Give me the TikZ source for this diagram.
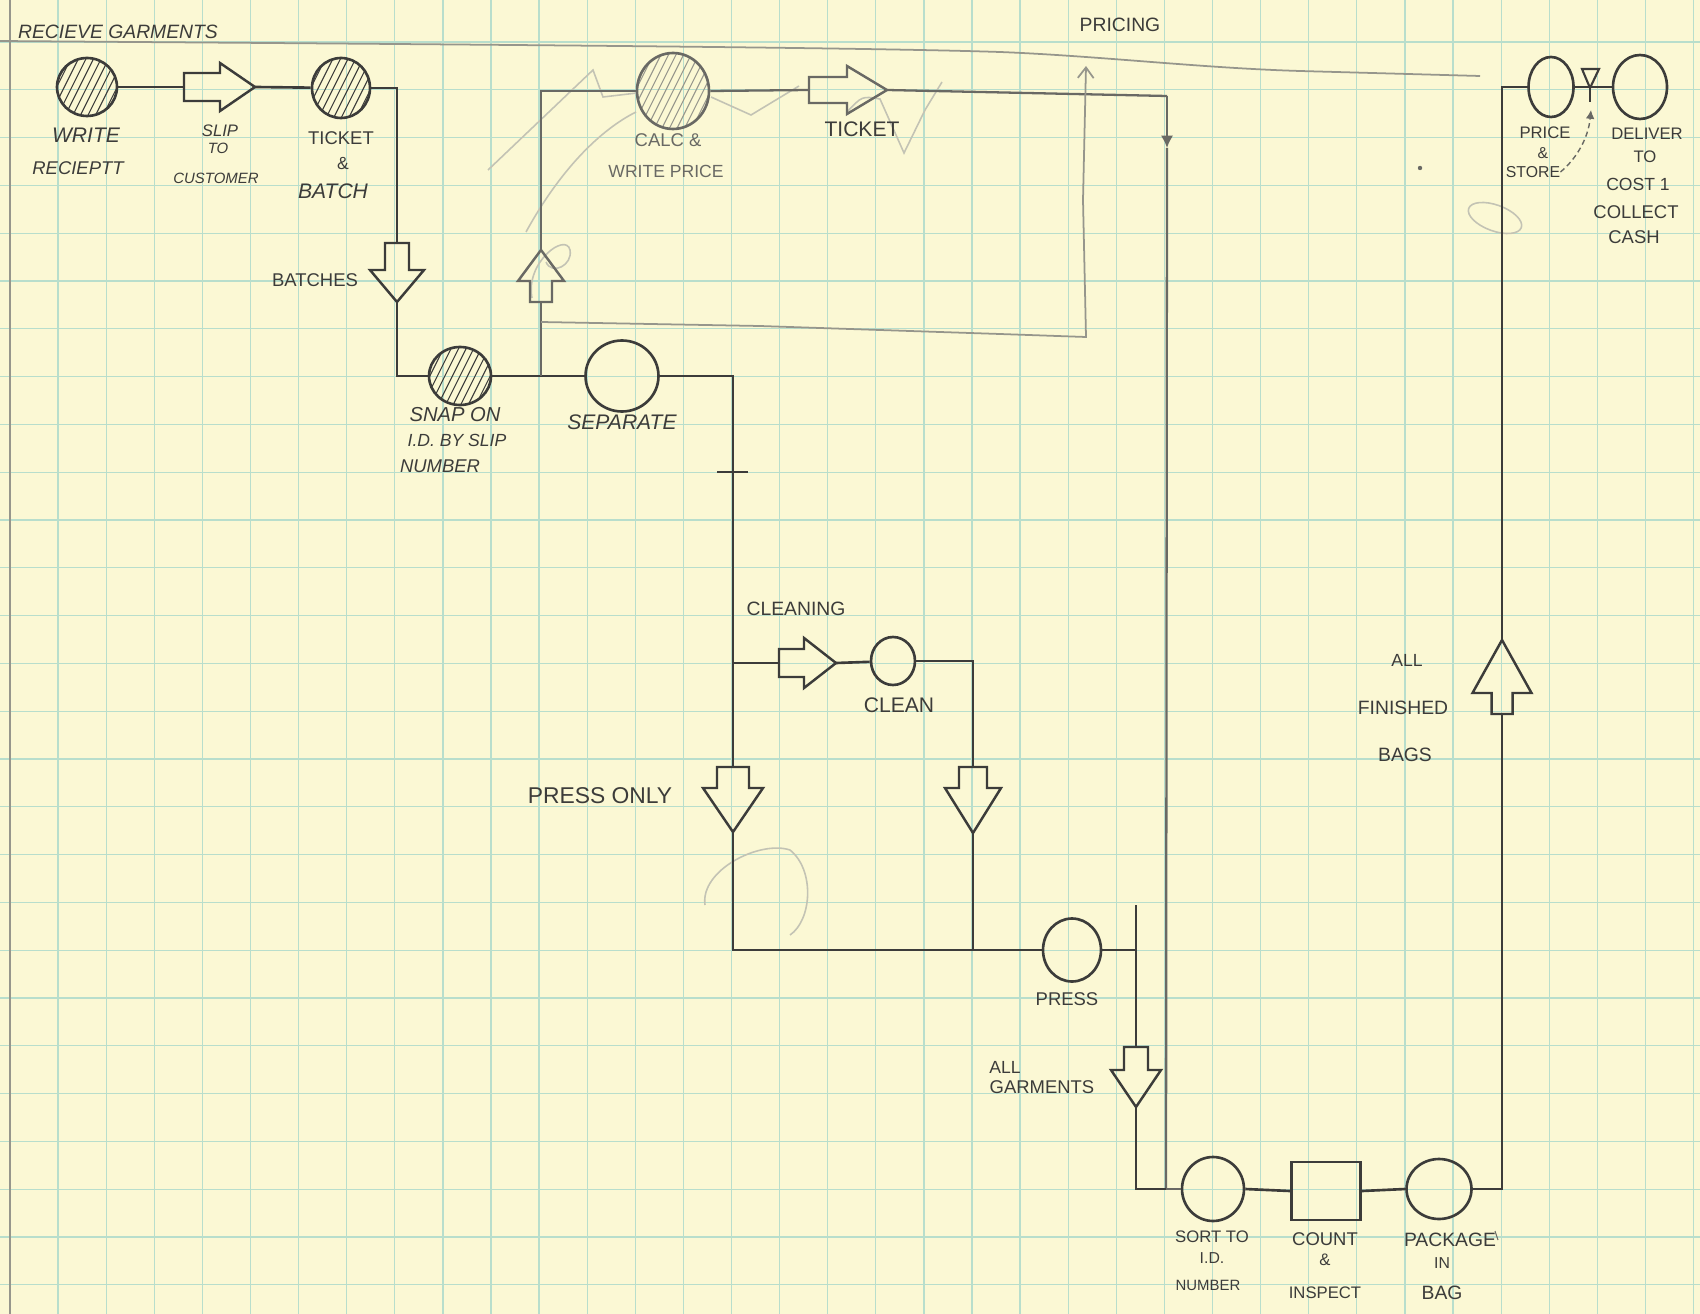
\documentclass[tikz,border=0pt]{standalone}
\usepackage{fontspec}
\setmainfont{Liberation Sans}
\usetikzlibrary{shapes.geometric,arrows.meta,calc}
\definecolor{paper}{RGB}{251,248,212}
\definecolor{gridc}{RGB}{184,222,204}
\definecolor{ink}{RGB}{60,60,58}
\definecolor{pencil}{RGB}{105,105,100}
\definecolor{pale}{RGB}{150,150,140}
\definecolor{faint}{RGB}{195,195,180}
\tikzset{
  flow/.style={draw=ink, line width=1.5pt},
  pen/.style={draw=pencil, line width=1.3pt},
  paleline/.style={draw=pale, line width=1.0pt},
  faintline/.style={draw=faint, line width=0.9pt},
  proc/.style={ellipse, draw=ink, line width=1.5pt, inner sep=0pt},
  hatch/.style={path picture={\foreach \k in {-9,...,9}{\draw[line width=0.6pt, draw=#1] ([xshift=\k*4.3pt-16pt, yshift=-32pt]path picture bounding box.center) -- ++(32pt,64pt);}}},
  hatch/.default=ink,
  blk/.style={draw=ink, line width=1.4pt, line join=miter},
  lab/.style={text=ink, inner sep=0pt, font=\fontsize{#1}{#1}\selectfont},
  lab/.default=10,
  labi/.style={text=ink, inner sep=0pt, font=\fontsize{#1}{#1}\selectfont\itshape},
  labi/.default=10,
}
% horizontal hollow arrow: name, tail x, head base x, tip x, y, stem half, head half
\newcommand{\harrow}[8][]{%
  \draw[blk,#1] (#3,{#6-#7}) -- (#4,{#6-#7}) -- (#4,{#6-#8}) -- (#5,#6) -- (#4,{#6+#8}) -- (#4,{#6+#7}) -- (#3,{#6+#7}) -- cycle;
  \coordinate (#2-in) at (#3,#6); \coordinate (#2-out) at (#5,#6);}
% vertical hollow arrow: name, x, tail y, head base y, tip y, stem half, head half
\newcommand{\varrow}[8][]{%
  \draw[blk,#1] ({#3-#7},#4) -- ({#3+#7},#4) -- ({#3+#7},#5) -- ({#3+#8},#5) -- (#3,#6) -- ({#3-#8},#5) -- ({#3-#7},#5) -- cycle;
  \coordinate (#2-in) at (#3,#4); \coordinate (#2-out) at (#3,#6);}
\begin{document}
\begin{tikzpicture}[x=0.02cm,y=-0.02cm]
\fill[paper] (0,0) rectangle (1700,1314);
\useasboundingbox (0,0) rectangle (1700,1314);
% graph paper
\foreach \i in {1,...,35} \draw[gridc, line width=0.7pt] ({10+48.1*\i},0) -- ({10+48.1*\i},1314);
\foreach \j in {0,...,26} \draw[gridc, line width=0.7pt] (0,{42+47.8*\j}) -- (1700,{42+47.8*\j});
\draw[pale, line width=1.3pt] (10,0) -- (10,1314);
% header rule
\draw[paleline] (0,41) .. controls (400,44) and (850,47) .. (1000,52) .. controls (1100,56) and (1200,68) .. (1300,71) -- (1480,76);

% erased pencil scribbles
\draw[faintline] (488,170) -- (593,70) -- (603,97) -- (637,93);
\draw[faintline] (711,97) -- (751,115) -- (799,86);
\draw[faintline] (847,112) .. controls (862,96) .. (880,99) -- (904,153) -- (925,110) -- (942,82);
\draw[faintline] (526,232) .. controls (560,170) and (600,130) .. (636,112);
\draw[faintline] (532,298) .. controls (525,262) and (566,232) .. (570,250) .. controls (573,265) and (552,276) .. (546,262);
\draw[faintline] (705,905) .. controls (700,870) and (760,840) .. (790,850) .. controls (815,870) and (812,920) .. (790,935);
\draw[faintline, rotate around={-20:(1495,218)}] (1495,218) ellipse [x radius=28, y radius=13];
\fill[pencil] (1420,168) circle [radius=2.2];

% process symbols
\node[proc, hatch, minimum width=1.2cm, minimum height=1.16cm] (write) at (87,87) {};
\node[proc, hatch, minimum width=1.16cm, minimum height=1.2cm] (ticket) at (341,88) {};
\node[proc, hatch, minimum width=1.24cm, minimum height=1.16cm] (snap) at (460,376) {};
\node[proc, minimum width=1.46cm, minimum height=1.42cm] (sep) at (622,376) {};
\node[proc, draw=pencil, hatch=pale, minimum width=1.44cm, minimum height=1.52cm] (calc) at (673,91) {};
\node[proc, minimum width=0.88cm, minimum height=0.96cm] (clean) at (893,661) {};
\node[proc, minimum width=1.16cm, minimum height=1.26cm] (press) at (1072,950) {};
\node[proc, minimum width=1.24cm, minimum height=1.28cm] (sort) at (1213,1189) {};
\node[draw=ink, line width=1.5pt, rectangle, inner sep=0pt, minimum width=1.38cm, minimum height=1.16cm] (count) at (1326,1191) {};
\node[proc, minimum width=1.3cm, minimum height=1.2cm] (pack) at (1439,1189) {};
\node[proc, minimum width=0.9cm, minimum height=1.2cm] (price) at (1551,87) {};
\node[proc, minimum width=1.08cm, minimum height=1.28cm] (deliver) at (1640,87) {};

% transport arrows
\harrow{slip}{184}{220}{255}{87}{14}{24}
\varrow{bat}{397}{243}{270}{302}{12}{27}
\varrow[draw=pencil]{pu}{541}{302}{281}{250}{11}{23}
\harrow[draw=pencil]{tk}{809}{847}{887}{90}{13}{24}
\harrow{cl}{779}{804}{836}{663}{14}{25}
\varrow{po}{733}{767}{788}{832}{16}{30}
\varrow{cd}{973}{767}{788}{833}{14}{28}
\varrow{ag}{1136}{1047}{1070}{1107}{12}{25}
\varrow{fb}{1502}{714}{693}{640}{10.5}{29.5}

% connectors
\draw[flow] (write) -- (slip-in);
\draw[flow] (slip-out) -- (ticket);
\draw[flow] (ticket.east) -| (bat-in);
\draw[flow] (bat-out) |- (snap.west);
\draw[flow] (snap.east) -- (sep.west);
\coordinate (J) at (541,376);
\coordinate (J2) at (541,322);
\draw[pen] (J) -- (pu-in);
\draw[pen] (pu-out) |- (calc.west);
\draw[pen] (calc.east) -- (tk-in);
\draw[pen] (tk-out) -- (1167,96) coordinate (prc);
\draw[pen, -{Latex[length=7pt,width=7pt]}] (prc) -- (1167,148) coordinate (prd);
\draw[pen] (prd) -- (1166,1189) coordinate (pre);
\draw[paleline, -{Straight Barb[length=6pt,width=9pt]}] (J2) -- (760,326) -- (1000,334) -- (1086,337) coordinate (rl) -- (1083,200) -- (1086,66);
\draw[flow] (sep.east) -| (po-in);
\draw[flow, line width=1pt] (717,472) -- (748,472);
\draw[flow] (733,663) coordinate (K) -- (cl-in);
\draw[flow] (cl-out) -- (clean);
\draw[flow] (clean.east) -| (cd-in);
\draw[flow] (cd-out) -- (973,950) coordinate (M);
\draw[flow] (po-out) |- (press.west);
\draw[flow] (press.east) -- (1136,950) coordinate (N);
\draw[flow] (1136,905) coordinate (N0) -- (ag-in);
\draw[flow] (ag-out) |- (sort.west);
\draw[pen] (pre) -- (sort.west);
\draw[flow] (sort.east) -- (count.west);
\draw[flow] (count.east) -- (pack.west);
\draw[flow] (pack.east) -| (fb-in);
\draw[flow] (fb-out) |- (price.west);
\draw[flow] (price.east) -- (deliver.west);
% storage triangle
\draw[flow, line width=1.2pt] (1582,69) -- (1599,69) -- (1590,88) -- cycle;
\draw[flow, line width=1.2pt] (1590,88) -- (1590,102);
\draw[pencil, line width=0.6pt] (1495,1231) -- (1498,1240);

% labels
\node[labi=11] (t01) at (118,32) {RECIEVE GARMENTS};
\node[labi=12] (t02) at (86,135) {WRITE};
\node[labi=10.5] (t03) at (78,168) {RECIEPTT};
\node[labi=9.5] (t04) at (220,131) {SLIP};
\node[labi=8.5] (t05) at (218,148) {TO};
\node[labi=8.5] (t06) at (216,178) {CUSTOMER};
\node[lab=10.5] (t07) at (341,138) {TICKET};
\node[lab=10] (t08) at (343,164) {\&};
\node[labi=12] (t09) at (333,191) {BATCH};
\node[lab=10.5] (t10) at (315,280) {BATCHES};
\node[labi=11.5] (t11) at (455,415) {SNAP ON};
\node[labi=10] (t12) at (457,440) {I.D. BY SLIP};
\node[labi=10.5] (t13) at (440,466) {NUMBER};
\node[labi=12] (t14) at (622,422) {SEPARATE};
\node[lab=10.5, text=pencil] (t15) at (668,140) {CALC \&};
\node[lab=10, text=pencil] (t16) at (666,171) {WRITE PRICE};
\node[lab=12] (t17) at (862,129) {TICKET};
\node[lab=11] (t18) at (1120,25) {PRICING};
\node[lab=11] (t19) at (796,609) {CLEANING};
\node[lab=12] (t20) at (899,705) {CLEAN};
\node[lab=13] (t21) at (600,796) {PRESS ONLY};
\node[lab=10.5] (t22) at (1067,999) {PRESS};
\node[lab=10] (t23) at (1005,1067) {ALL};
\node[lab=10.5] (t24) at (1042,1087) {GARMENTS};
\node[lab=9.5] (t25) at (1212,1237) {SORT TO};
\node[lab=9] (t26) at (1212,1258) {I.D.};
\node[lab=8.5] (t27) at (1208,1285) {NUMBER};
\node[lab=10.5] (t28) at (1325,1239) {COUNT};
\node[lab=9.5] (t29) at (1325,1260) {\&};
\node[lab=9.5] (t30) at (1325,1293) {INSPECT};
\node[lab=11] (t31) at (1450,1240) {PACKAGE};
\node[lab=9] (t32) at (1442,1263) {IN};
\node[lab=11] (t33) at (1442,1293) {BAG};
\node[lab=10] (t34) at (1407,660) {ALL};
\node[lab=11] (t35) at (1403,708) {FINISHED};
\node[lab=11] (t36) at (1405,755) {BAGS};
\node[lab=9.5] (t37) at (1545,133) {PRICE};
\node[lab=9] (t38) at (1543,153) {\&};
\node[lab=9] (t39) at (1533,172) {STORE};
\node[lab=9.5] (t40) at (1647,134) {DELIVER};
\node[lab=9.5] (t41) at (1645,157) {TO};
\node[lab=10] (t42) at (1638,184) {COST 1};
\node[lab=10.5] (t43) at (1636,212) {COLLECT};
\node[lab=10.5] (t44) at (1634,237) {CASH};
\draw[pencil, densely dashed, line width=0.8pt, -{Latex[length=5pt,width=5pt]}] (t39.east) .. controls (1575,160) and (1588,140) .. (1591,110);
\end{tikzpicture}
\end{document}
